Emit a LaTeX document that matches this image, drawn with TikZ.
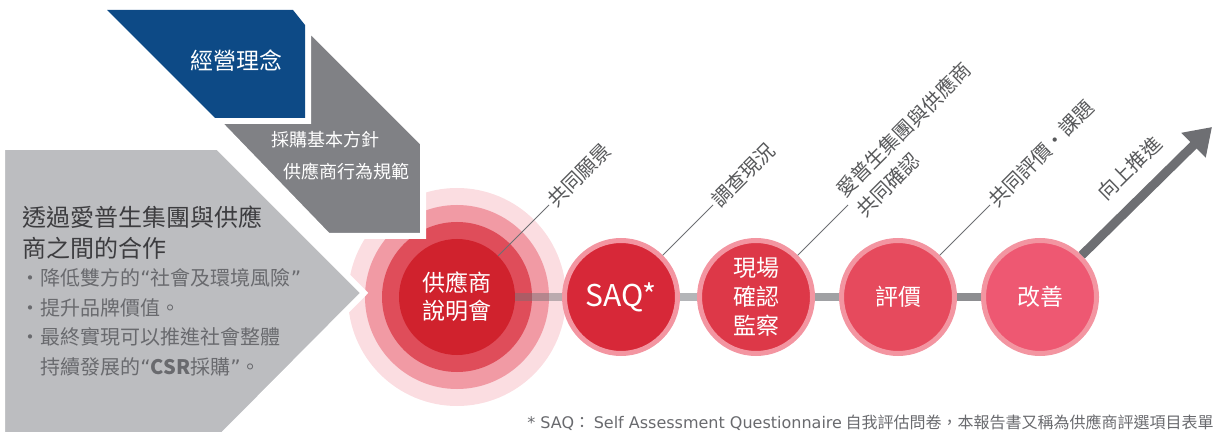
\documentclass[tikz,border=0pt]{standalone}
\usepackage{fontspec}
\setmainfont{Noto Sans CJK TC}
\newfontfamily\notelatin{DejaVu Sans}
\usetikzlibrary{arrows.meta}
\definecolor{policyblue}{RGB}{13,74,134}
\definecolor{policygray}{RGB}{128,129,133}
\definecolor{panelgray}{RGB}{188,189,192}
\definecolor{headtext}{RGB}{60,60,63}
\definecolor{bodytext}{RGB}{105,106,110}
\definecolor{labeltext}{RGB}{88,89,91}
\definecolor{ringA}{RGB}{251,221,225}
\definecolor{ringB}{RGB}{241,154,164}
\definecolor{ringC}{RGB}{223,77,90}
\definecolor{ringD}{RGB}{208,34,45}
\definecolor{stepedge}{RGB}{243,149,161}
\definecolor{saqred}{RGB}{215,40,56}
\definecolor{sitered}{RGB}{221,56,72}
\definecolor{evalred}{RGB}{230,74,93}
\definecolor{improvered}{RGB}{238,88,114}
\definecolor{arrowgray}{RGB}{110,111,115}
\begin{document}
\begin{tikzpicture}[x=0.5pt,y=-0.5pt,
        ring/.style={circle,inner sep=0pt,draw=none},
        stepnode/.style={circle,draw=stepedge,line width=2.5pt,minimum size=56.5pt,inner sep=0pt,text=white,align=center,font=\fontsize{11.5}{14.5}\selectfont},
        panel/.style={draw=white,line width=3pt,line join=miter},
        bar/.style={line width=4pt},
        leader/.style={draw=arrowgray,line width=0.5pt},
        slantlbl/.style={rotate=45,anchor=west,inner sep=1pt,text=labeltext,align=left,font=\fontsize{10}{14}\selectfont}]
                \useasboundingbox (0,0) rectangle (1218,432);

                \node[ring,fill=ringA,minimum size=109pt] (launchA) at (457,297) {};
                \node[ring,fill=ringB,minimum size=92pt] (launchB) at (457,297) {};
                \node[ring,fill=ringC,minimum size=75pt] (launchC) at (457,297) {};
                \node[ring,fill=ringD,minimum size=58pt,text=white,align=center,font=\fontsize{11.5}{14}\selectfont] (launch) at (457,297) {供應商\\說明會};

                \fill[panel,fill=panelgray] (2,147) -- (218,147) -- (364,293) -- (222,436) -- (2,436) -- cycle;
                \filldraw[panel,fill=policygray] (217,121) -- (308,121) -- (308,28) -- (423,143) -- (423,236) -- (328,236) -- cycle;
                \fill[policyblue] (107,10) -- (293,10) -- (305,25) -- (305,118) -- (215,118) -- cycle;

                \node[text=white,font=\fontsize{11.5}{14}\selectfont] (philo) at (236,61) {經營理念};
                \node[text=white,font=\fontsize{9}{12}\selectfont] (basic) at (325,140) {採購基本方針};
                \node[text=white,font=\fontsize{9}{12}\selectfont] (conduct) at (346,172) {供應商行為規範};
                \node[anchor=west,inner sep=0pt,text=headtext,font=\fontsize{12}{15}\selectfont] (coopA) at (22,217) {透過愛普生集團與供應};
                \node[anchor=west,inner sep=0pt,text=headtext,font=\fontsize{12}{15}\selectfont] (coopB) at (22,248) {商之間的合作};
                \node[anchor=west,inner sep=0pt,text=bodytext,font=\fontsize{10}{13}\selectfont] (riskpt) at (20,278) {・降低雙方的{\notelatin “}社會及環境風險{\notelatin ”}};
                \node[anchor=west,inner sep=0pt,text=bodytext,font=\fontsize{10}{13}\selectfont] (brandpt) at (20,308) {・提升品牌價值。};
                \node[anchor=west,inner sep=0pt,text=bodytext,font=\fontsize{10}{13}\selectfont] (csrptA) at (20,337) {・最終實現可以推進社會整體};
                \node[anchor=west,inner sep=0pt,text=bodytext,font=\fontsize{10}{13}\selectfont] (csrptB) at (40,367) {持續發展的{\notelatin “}\textbf{CSR}採購{\notelatin ”}。};

                \node[stepnode,fill=saqred,font=\fontsize{15}{18}\selectfont] (saq) at (621,297) {SAQ*};
                \node[stepnode,fill=sitered] (site) at (756,297) {現場\\確認\\監察};
                \node[stepnode,fill=evalred] (eval) at (898,297) {評價};
                \node[stepnode,fill=improvered] (improve) at (1040,297) {改善};
                \coordinate (peak) at (1212,127);

                \draw[bar,draw=arrowgray,opacity=0.45] (launch) -- (saq);
                \draw[bar,draw={rgb,255:red,180;green,181;blue,184}] (saq) -- (site);
                \draw[bar,draw={rgb,255:red,160;green,161;blue,164}] (site) -- (eval);
                \draw[bar,draw={rgb,255:red,141;green,142;blue,145}] (eval) -- (improve);

                \node[slantlbl] (visionlbl) at (549,205) {共同願景};
                \node[slantlbl] (surveylbl) at (713,205) {調查現況};
                \node[slantlbl] (confirmlbl) at (848,205) {愛普生集團與供應商\\共同確認};
                \node[slantlbl] (reviewlbl) at (990,205) {共同評價・課題};

                \draw[leader] (launch.45) to (visionlbl.west);
                \draw[leader] (saq.45) to (surveylbl.west);
                \draw[leader] (site.45) to (confirmlbl.west);
                \draw[leader] (eval.45) to (reviewlbl.west);
                \draw[draw=arrowgray,line width=4.5pt,-{Triangle[length=13pt,width=16.5pt]}] (improve.45) to node[sloped,above=4pt,pos=0.52,text=labeltext,font=\fontsize{10}{14}\selectfont] {向上推進} (peak);

                \node[anchor=east,inner sep=0pt,text=bodytext,font=\fontsize{8}{10}\selectfont] (saqnote) at (1214,423) {{\notelatin * SAQ}：\ {\notelatin Self Assessment Questionnaire} 自我評估問卷，本報告書又稱為供應商評選項目表單};
            \end{tikzpicture}
\end{document}
